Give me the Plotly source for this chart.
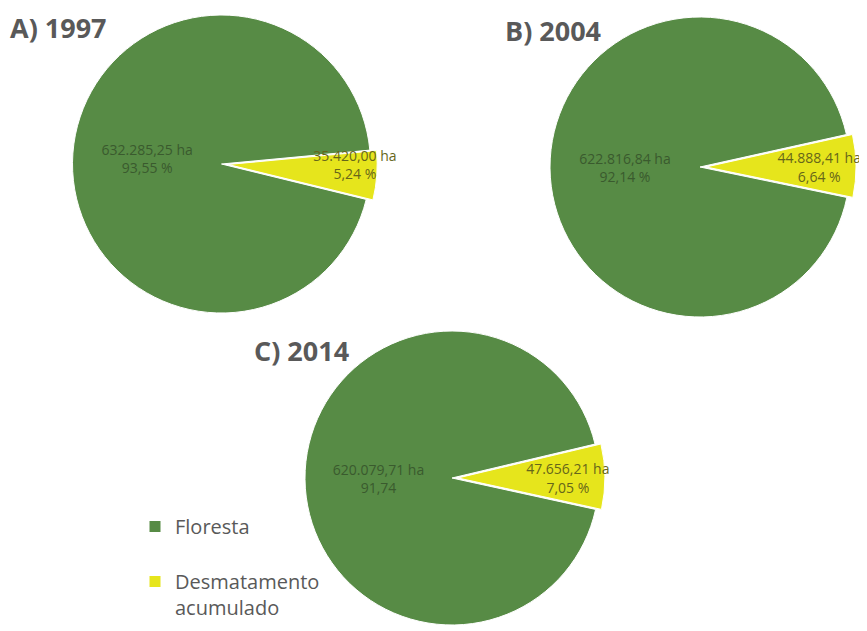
import plotly.graph_objects as go

# ---- data ----
years = ["A) 1997", "B) 2004", "C) 2014"]
categories = ["Floresta<br> ", "Desmatamento<br>acumulado"]
floresta_ha = [632285.25, 622816.84, 620079.71]
desmat_ha = [35420.00, 44888.41, 47656.21]
floresta_text = ["632.285,25 ha<br>93,55 %", "622.816,84 ha<br>92,14 %", "620.079,71 ha<br>91,74"]
desmat_text = ["35.420,00 ha<br>5,24 %", "44.888,41 ha<br>6,64 %", "47.656,21 ha<br>7,05 %"]

# ---- layout / style ----
W, H = 867, 631
OFF = 8  # page body margin: figure origin sits 8px right/down in the page
GREEN = "#578B45"
YELLOW = "#E6E51C"
# pie centre (page px), radius (px), pull of yellow slice, mid-angle of yellow slice (deg clockwise from 12h)
pies = [
    dict(cx=221.5, cy=164, r=149, pull=0.045, mid=94.2),
    dict(cx=700, cy=167, r=150, pull=0.04, mid=89.6),
    dict(cx=452, cy=478, r=147, pull=0.04, mid=89.5),
]
title_pos = [(8, 28), (503, 30), (252, 350)]


def fx(px):
    return (px - OFF) / W


def fy(py):
    return 1 - (py - OFF) / H


fig = go.Figure()
for i, p in enumerate(pies):
    half = p["r"] * (1 + p["pull"])
    x0 = max(0, fx(p["cx"] - half))
    x1 = min(1, fx(p["cx"] + half))
    y0 = max(0, fy(p["cy"] + half))
    y1 = min(1, fy(p["cy"] - half))
    frac = desmat_ha[i] / (floresta_ha[i] + desmat_ha[i])
    rotation = p["mid"] + 360 * frac / 2
    fig.add_trace(go.Pie(
        labels=categories,
        values=[floresta_ha[i], desmat_ha[i]],
        text=[floresta_text[i], desmat_text[i]],
        textinfo="text",
        textposition="inside",
        insidetextorientation="horizontal",
        textfont=dict(family="Open Sans", size=14, color=["#3A5A2E", "#66661A"]),
        marker=dict(colors=[GREEN, YELLOW], line=dict(color="white", width=1)),
        pull=[0, p["pull"]],
        sort=False,
        direction="clockwise",
        rotation=rotation,
        domain=dict(x=[x0, x1], y=[y0, y1]),
        hoverinfo="label+value",
        showlegend=(i == 0),
    ))
    tx, ty = title_pos[i]
    fig.add_annotation(
        text="<b>%s</b>" % years[i], x=fx(tx), y=fy(ty), xref="paper", yref="paper",
        xanchor="left", yanchor="middle", showarrow=False,
        font=dict(family="Open Sans", size=27, color="#595959"),
    )

fig.update_layout(
    width=W, height=H,
    margin=dict(l=0, r=0, t=0, b=0),
    paper_bgcolor="white",
    plot_bgcolor="white",
    uniformtext=dict(mode="show", minsize=14),
    legend=dict(
        x=fx(135), y=fy(507), xanchor="left", yanchor="top",
        font=dict(family="Open Sans", size=20, color="#595959"),
        valign="top", traceorder="normal",
        bgcolor="rgba(0,0,0,0)",
    ),
)

fig.write_html("out.html")
